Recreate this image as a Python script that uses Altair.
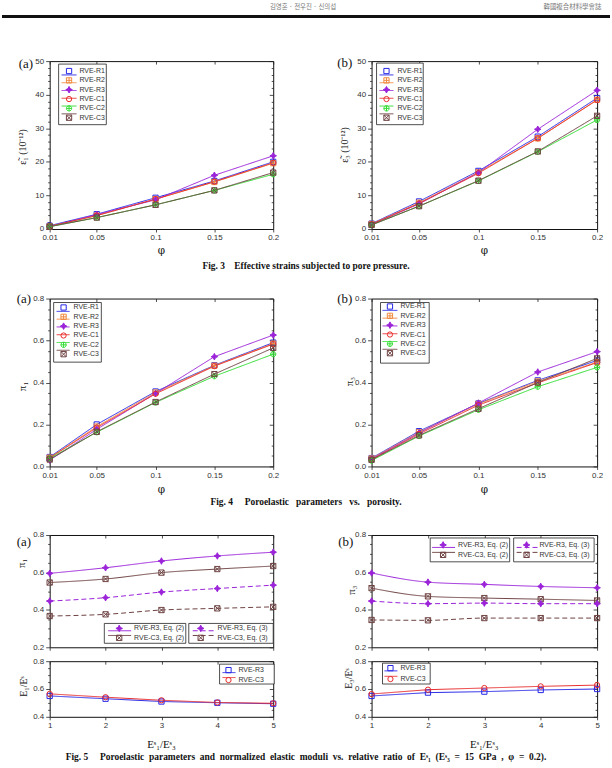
import altair as alt
import pandas as pd

# ---------------- data ----------------
phi = [0.01, 0.05, 0.1, 0.15, 0.2]
rve_names = ["RVE-R1", "RVE-R2", "RVE-R3", "RVE-C1", "RVE-C2", "RVE-C3"]

# Fig. 3 (a)  effective strain eps1 (1e-12)
eps1_R1 = [1.0, 4.4, 9.3, 14.3, 20.0]
eps1_R2 = [0.8, 4.0, 8.9, 14.0, 19.6]
eps1_R3 = [0.7, 4.3, 8.7, 16.0, 21.8]
eps1_C1 = [0.8, 4.0, 8.9, 14.1, 19.7]
eps1_C2 = [0.7, 3.4, 7.2, 11.5, 16.3]
eps1_C3 = [0.7, 3.4, 7.2, 11.5, 16.8]
# Fig. 3 (b)  eps3
eps3_R1 = [1.6, 8.2, 17.3, 27.5, 39.0]
eps3_R2 = [1.5, 7.8, 16.9, 27.0, 38.5]
eps3_R3 = [1.3, 7.5, 16.8, 29.7, 41.3]
eps3_C1 = [1.4, 7.6, 16.6, 27.0, 38.4]
eps3_C2 = [1.2, 6.8, 14.3, 23.0, 32.5]
eps3_C3 = [1.2, 6.8, 14.4, 23.1, 33.7]
# Fig. 4 (a)  pi1
pi1_R1 = [0.045, 0.200, 0.357, 0.482, 0.590]
pi1_R2 = [0.042, 0.190, 0.352, 0.480, 0.585]
pi1_R3 = [0.030, 0.177, 0.348, 0.523, 0.626]
pi1_C1 = [0.040, 0.185, 0.346, 0.478, 0.583]
pi1_C2 = [0.038, 0.163, 0.305, 0.430, 0.535]
pi1_C3 = [0.033, 0.165, 0.307, 0.440, 0.565]
# Fig. 4 (b)  pi3
pi3_R1 = [0.040, 0.168, 0.300, 0.410, 0.505]
pi3_R2 = [0.038, 0.163, 0.298, 0.405, 0.497]
pi3_R3 = [0.035, 0.160, 0.302, 0.450, 0.547]
pi3_C1 = [0.033, 0.155, 0.292, 0.398, 0.495]
pi3_C2 = [0.028, 0.145, 0.270, 0.380, 0.472]
pi3_C3 = [0.032, 0.148, 0.275, 0.400, 0.515]

# Fig. 5
ratio = [1, 2, 3, 4, 5]
eq_names = ["RVE-R3, Eq. (2)", "RVE-C3, Eq. (2)", "RVE-R3, Eq. (3)", "RVE-C3, Eq. (3)"]
mod_names = ["RVE-R3", "RVE-C3"]
p1_R3_eq2 = [0.595, 0.625, 0.661, 0.688, 0.708]
p1_C3_eq2 = [0.546, 0.565, 0.599, 0.618, 0.634]
p1_R3_eq3 = [0.447, 0.465, 0.495, 0.514, 0.532]
p1_C3_eq3 = [0.367, 0.376, 0.399, 0.408, 0.416]
e1_R3 = [0.550, 0.530, 0.510, 0.501, 0.494]
e1_C3 = [0.565, 0.541, 0.519, 0.503, 0.497]
p3_R3_eq2 = [0.597, 0.548, 0.536, 0.525, 0.518]
p3_C3_eq2 = [0.516, 0.472, 0.463, 0.457, 0.450]
p3_R3_eq3 = [0.447, 0.433, 0.436, 0.433, 0.433]
p3_C3_eq3 = [0.346, 0.344, 0.356, 0.356, 0.356]
e3_R3 = [0.550, 0.574, 0.581, 0.593, 0.600]
e3_C3 = [0.564, 0.595, 0.607, 0.619, 0.628]

header_left = "김영훈 · 전우진 · 신의섭"
header_right = "韓國複合材料學會誌"
NB = "\u00a0"
cap3_words = ["Effective", "strains", "subjected", "to", "pore", "pressure."]
cap4_words = ["Poroelastic", "parameters", "vs.", "porosity."]
cap5_words = ["Poroelastic", "parameters", "and", "normalized", "elastic", "moduli", "vs.",
              "relative", "ratio", "of", "Eˢ₁", "(Eˢ₃", "=", "15", "GPa", ",", "φ", "=", "0.2)."]
cap3_text = "Fig. 3" + NB * 4 + " ".join(cap3_words)
cap4_text = "Fig. 4" + NB * 5 + (NB * 2 + " ").join(cap4_words)
cap5_text = "Fig. 5" + NB * 5 + (NB + " ").join(cap5_words)


def long_df(xs, names, series):
    rows = []
    for n, vals in zip(names, series):
        for xv, yv in zip(xs, vals):
            rows.append({"x": xv, "y": yv, "s": n})
    return pd.DataFrame(rows)


df3a = long_df(phi, rve_names, [eps1_R1, eps1_R2, eps1_R3, eps1_C1, eps1_C2, eps1_C3])
df3b = long_df(phi, rve_names, [eps3_R1, eps3_R2, eps3_R3, eps3_C1, eps3_C2, eps3_C3])
df4a = long_df(phi, rve_names, [pi1_R1, pi1_R2, pi1_R3, pi1_C1, pi1_C2, pi1_C3])
df4b = long_df(phi, rve_names, [pi3_R1, pi3_R2, pi3_R3, pi3_C1, pi3_C2, pi3_C3])
df5at = long_df(ratio, eq_names, [p1_R3_eq2, p1_C3_eq2, p1_R3_eq3, p1_C3_eq3])
df5ab = long_df(ratio, mod_names, [e1_R3, e1_C3])
df5bt = long_df(ratio, eq_names, [p3_R3_eq2, p3_C3_eq2, p3_R3_eq3, p3_C3_eq3])
df5bb = long_df(ratio, mod_names, [e3_R3, e3_C3])

# ---------------- styles ----------------
SANS = "Liberation Sans"
SERIF = "Liberation Serif"
SQ = "M-1,-1H1V1H-1Z"
SQPLUS = "M-1,-1H1V1H-1Z M0,-1V1 M-1,0H1"
STAR = "M0,-1.25L0.42,-0.42L1.25,0L0.42,0.42L0,1.25L-0.42,0.42L-1.25,0L-0.42,-0.42Z"
CIRC = "circle"
CIRCPLUS = "M-1,0A1,1 0 1,1 1,0A1,1 0 1,1 -1,0Z M0,-1V1 M-1,0H1"
SQX = "M-1,-1H1V1H-1Z M-1,-1L1,1 M-1,1L1,-1"
BLUE, ORANGE, PURPLE, RED, GREEN, BROWN = "#2424e6", "#f08a40", "#9a22d8", "#e82a2a", "#2fdc2f", "#6e4242"
T = "transparent"
SOLID, DASH = [1, 0], [5, 3]

rve_style = ([BLUE, ORANGE, PURPLE, RED, GREEN, BROWN],
             [SQ, SQPLUS, STAR, CIRC, CIRCPLUS, SQX],
             [T, T, PURPLE, T, T, T],
             [SOLID] * 6)
eq_style = ([PURPLE, BROWN, PURPLE, BROWN], [STAR, SQX, STAR, SQX],
            [PURPLE, T, PURPLE, T], [SOLID, SOLID, DASH, DASH])
mod_style = ([BLUE, RED], [SQ, CIRC], [T, T], [SOLID, SOLID])

ONE = alt.Data(values=[{"k": 0}])


def const_text(txt, x, y, **kw):
    return alt.Chart(ONE).mark_text(**kw).encode(x=alt.value(x), y=alt.value(y), text=alt.value(txt))


def panel(df, names, style, W, H, xdom, xmaj, xfmt, xlabels, xtitle, xtitle_y,
          ydom, ymaj, ymin, yfmt, ytitle, ytx, yty, tag, tag_xy, legends,
          interp="linear", ytsize=11, xtfont="DejaVu Serif", xtsize=10.5):
    colors, shapes, fills, dashes = style
    s_stroke = alt.Scale(domain=names, range=colors)
    s_fill = alt.Scale(domain=names, range=fills)
    s_shape = alt.Scale(domain=names, range=shapes)
    s_dash = alt.Scale(domain=names, range=dashes)
    xs = alt.Scale(domain=xdom, nice=False, zero=False)
    ys = alt.Scale(domain=ydom, nice=False, zero=False)
    base = alt.Chart(df)

    xkw = dict(values=xmaj, format=xfmt, labels=xlabels, tickSize=3, labelPadding=2,
               labelFlush=False, labelOverlap=False, domain=False, grid=False, title="")
    yaxis = alt.Axis(values=ymaj, format=yfmt, tickSize=4, labelPadding=2, domain=False, grid=False,
                     title=ytitle, titleX=ytx, titleY=yty, titleAngle=270, titleAlign="center",
                     titleBaseline="middle", titleFont=SERIF, titleFontSize=ytsize,
                     titleFontWeight="normal", titleColor="#111", labelFlush=False)

    lines = base.mark_line(strokeWidth=1, interpolate=interp).encode(
        x=alt.X("x:Q", scale=xs, axis=alt.Axis(**xkw)),
        y=alt.Y("y:Q", scale=ys, axis=yaxis),
        stroke=alt.Stroke("s:N", scale=s_stroke, legend=None),
        strokeDash=alt.StrokeDash("s:N", scale=s_dash, legend=None),
        detail="s:N")
    pts = base.mark_point(size=28, strokeWidth=1, opacity=1, filled=False).encode(
        x=alt.X("x:Q", scale=xs, axis=None),
        y=alt.Y("y:Q", scale=ys, axis=None),
        stroke=alt.Stroke("s:N", scale=s_stroke, legend=None),
        fill=alt.Fill("s:N", scale=s_fill, legend=None),
        shape=alt.Shape("s:N", scale=s_shape, legend=None))
    minor = base.mark_point(opacity=0).encode(
        x=alt.X("x:Q", scale=xs, axis=None),
        y=alt.Y("y:Q", scale=ys, axis=alt.Axis(values=ymin, labels=False, tickSize=2, domain=False,
                                                grid=False, title="")))
    mirror = base.mark_point(opacity=0).encode(
        x=alt.X("x:Q", scale=xs, axis=alt.Axis(orient="top", values=xmaj, labels=False,
                                                tickSize={"expr": "-3"}, domain=False, grid=False, title="")),
        y=alt.Y("y:Q", scale=ys, axis=alt.Axis(orient="right", values=ymaj, labels=False,
                                                tickSize={"expr": "-4"}, domain=False, grid=False, title="")))
    mirror_minor = base.mark_point(opacity=0).encode(
        x=alt.X("x:Q", scale=xs, axis=None),
        y=alt.Y("y:Q", scale=ys, axis=alt.Axis(orient="right", values=ymin, labels=False,
                                                tickSize={"expr": "-2"}, domain=False, grid=False, title="")))
    layers = [minor, mirror, mirror_minor, lines, pts]

    for lg in legends:
        items = lg["items"]
        bx = lg["box"]
        lys = alt.Scale(domain=items, range=[lg["y"][0], lg["y"][1]], padding=0)
        ly = alt.Y("s:N", scale=lys, axis=None)
        ldf = pd.DataFrame({"s": items})
        layers.append(alt.Chart(ONE).mark_rect(fill="white", stroke="#222", strokeWidth=0.8).encode(
            x=alt.value(bx[0]), x2=alt.value(bx[2]), y=alt.value(bx[1]), y2=alt.value(bx[3])))
        layers.append(alt.Chart(ldf).mark_rule(strokeWidth=1).encode(
            x=alt.value(lg["line"][0]), x2=alt.value(lg["line"][1]), y=ly,
            stroke=alt.Stroke("s:N", scale=s_stroke, legend=None),
            strokeDash=alt.StrokeDash("s:N", scale=s_dash, legend=None)))
        layers.append(alt.Chart(ldf).mark_point(size=28, strokeWidth=1, opacity=1, filled=False).encode(
            x=alt.value(lg["mark"]), y=ly,
            stroke=alt.Stroke("s:N", scale=s_stroke, legend=None),
            fill=alt.Fill("s:N", scale=s_fill, legend=None),
            shape=alt.Shape("s:N", scale=s_shape, legend=None)))
        layers.append(alt.Chart(ldf).mark_text(align="left", baseline="middle", font=SANS,
                                               fontSize=7, color="#333").encode(
            x=alt.value(lg["text"]), y=ly, text="s:N"))

    if tag:
        layers.append(const_text(tag, tag_xy[0], tag_xy[1], font=SERIF, fontSize=13, align="center",
                                 baseline="middle", color="#111"))
    if xtitle:
        layers.append(const_text(xtitle, W / 2, H + xtitle_y, font=xtfont, fontSize=xtsize,
                                 align="center", baseline="middle", color="#111"))

    return alt.layer(*layers).resolve_scale(y="independent").resolve_axis(
        x="independent", y="independent").properties(
        width=W, height=H, view=alt.ViewBackground(stroke="#111", strokeWidth=1))


def spacer(W, H, extra=None):
    ch = alt.Chart(ONE).mark_point(opacity=0, size=1).encode(x=alt.value(W / 2), y=alt.value(H / 2))
    if extra is not None:
        ch = alt.layer(ch, *extra)
    return ch.properties(width=W, height=H)


def rve_legend(box, y, line, mark, text):
    return [dict(items=rve_names, box=box, y=y, line=line, mark=mark, text=text)]


WL, WR = 225, 227
H34 = 169
yminor3 = [v for v in range(0, 51, 2) if v % 10 != 0]
yminor4 = [round(0.05 * i, 2) for i in range(0, 17) if i % 4 != 0]
yminor5t = [round(0.2 + 0.05 * i, 2) for i in range(0, 13) if i % 4 != 0]
yminor5b = [round(0.4 + 0.05 * i, 2) for i in range(0, 9) if i % 4 != 0]

f3a = panel(df3a, rve_names, rve_style, WL, H34, [0.01, 0.2], phi, "~g", True, "φ", 22,
            [0, 50], [0, 10, 20, 30, 40, 50], yminor3, "d", "ε̃₁   (10⁻¹²)", -27, 86,
            "(a)", (-24, 3), rve_legend((9, 3, 57, 64), (10, 57), (12, 27), 19.5, 30), ytsize=10)
f3b = panel(df3b, rve_names, rve_style, WR, H34, [0.01, 0.2], phi, "~g", True, "φ", 22,
            [0, 50], [0, 10, 20, 30, 40, 50], yminor3, "d", "ε̃₃   (10⁻¹²)", -27, 84,
            "(b)", (-27, 2), rve_legend((5, 2, 52, 64), (10, 57), (8, 22), 15, 26), ytsize=10)
f4a = panel(df4a, rve_names, rve_style, WL, H34, [0.01, 0.2], phi, "~g", True, "φ", 24,
            [0, 0.8], [0, 0.2, 0.4, 0.6, 0.8], yminor4, ".1f", "π₁", -27, 88,
            "(a)", (-26, 0), rve_legend((4, 4, 52, 64), (9, 56), (7, 20), 14, 24))
f4b = panel(df4b, rve_names, rve_style, WR, H34, [0.01, 0.2], phi, "~g", True, "φ", 24,
            [0, 0.8], [0, 0.2, 0.4, 0.6, 0.8], yminor4, ".1f", "π₃", -22, 83,
            "(b)", (-27, 0), rve_legend((9, 4, 58, 65), (8, 55), (11, 26), 18.5, 29))

eq_leg_a = [dict(items=eq_names[:2], box=(55, 89, 137, 109), y=(94, 103.5), line=(59, 82), mark=70, text=85),
            dict(items=eq_names[2:], box=(140, 89, 225, 109), y=(94, 103.5), line=(144, 165), mark=152, text=169)]
eq_leg_b = [dict(items=eq_names[:2], box=(59, 3, 139, 27), y=(10, 20), line=(61, 84), mark=72, text=87),
            dict(items=eq_names[2:], box=(143, 3, 224, 27), y=(10, 20), line=(146, 167), mark=156, text=169)]
mod_leg_a = [dict(items=mod_names, box=(171, 3, 226, 23), y=(9, 19), line=(174, 187), mark=180, text=190)]
mod_leg_b = [dict(items=mod_names, box=(11, 2, 59, 23), y=(7, 18), line=(13, 26), mark=19, text=29)]

f5at = panel(df5at, eq_names, eq_style, WL, 113, [1, 5], ratio, "d", False, "", 0,
             [0.2, 0.8], [0.2, 0.4, 0.6, 0.8], yminor5t, ".1f", "π₁", -28, 28,
             "(a)", (-26, 7), eq_leg_a, interp="monotone")
f5bt = panel(df5bt, eq_names, eq_style, WR, 113, [1, 5], ratio, "d", False, "", 0,
             [0.2, 0.8], [0.2, 0.4, 0.6, 0.8], yminor5t, ".1f", "π₃", -20, 55,
             "(b)", (-26, 7), eq_leg_b, interp="monotone")
f5ab = panel(df5ab, mod_names, mod_style, WL, 56, [1, 5], ratio, "d", True, "Eˢ₁/Eˢ₃", 28,
             [0.4, 0.8], [0.4, 0.6, 0.8], yminor5b, ".1f", "E₁/Eˢ", -26, 25,
             "", (0, 0), mod_leg_a, ytsize=10, xtfont=SERIF, xtsize=11)
f5bb = panel(df5bb, mod_names, mod_style, WR, 56, [1, 5], ratio, "d", True, "Eˢ₁/Eˢ₃", 28,
             [0.4, 0.8], [0.4, 0.6, 0.8], yminor5b, ".1f", "E₃/Eˢ", -23, 17,
             "", (0, 0), mod_leg_b, ytsize=10, xtfont=SERIF, xtsize=11)

cap_kw = dict(font=SERIF, fontWeight="bold", fontSize=9.5, align="center", baseline="middle", color="#111")
header = spacer(WL, 58, [
    alt.Chart(ONE).mark_rule(strokeWidth=3, color="#111").encode(
        x=alt.value(-48), x2=alt.value(564), y=alt.value(13)),
    const_text(header_left, 255, 1, font="Noto Sans CJK KR", fontSize=6.5, color="#777",
               align="center", baseline="top"),
    const_text(header_right, 497, 1, font="Noto Sans CJK KR", fontSize=6.5, color="#777",
               align="left", baseline="top"),
])

cells = [
    header, spacer(WR, 58),
    f3a, f3b,
    spacer(WL, 70, [const_text(cap3_text, 258, 37, **cap_kw)]), spacer(WR, 70),
    f4a, f4b,
    spacer(WL, 69, [const_text(cap4_text, 258, 36, **cap_kw)]), spacer(WR, 69),
    f5at, f5bt,
    spacer(WL, 14), spacer(WR, 14),
    f5ab, f5bb,
    spacer(WL, 45, [const_text(cap5_text, 258, 40, **cap_kw)]), spacer(WR, 45),
]

chart = alt.concat(*cells, columns=2, spacing={"row": 0, "column": 99},
                   bounds="flush", align="each").resolve_scale(
    stroke="independent", fill="independent", shape="independent", strokeDash="independent"
).properties(
    padding={"left": 0, "top": 0, "right": 0, "bottom": 0}, background="white"
).configure_view(stroke="transparent").configure_axis(
    labelFont=SANS, labelFontSize=8, labelColor="#333", tickColor="#222", tickWidth=0.8
)

chart.save("out.html", embed_options={"renderer": "svg", "actions": False})
